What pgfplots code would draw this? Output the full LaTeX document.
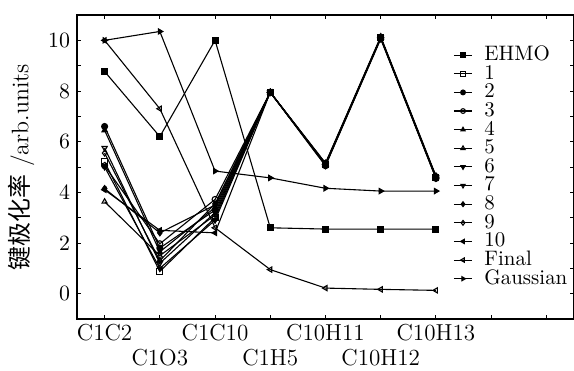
\documentclass[border=0pt]{standalone}
\usepackage{pgfplots}
\pgfplotsset{compat=1.18}
\usepackage{fontspec}
\newfontfamily\cjk{Noto Sans CJK SC}
\begin{document}
\begin{tikzpicture}
\begin{axis}[
  scale only axis,
  width=248.5bp, height=152bp,
  xmin=-0.5, xmax=8.5, ymin=-1, ymax=11,
  xtick={0,1,2,3,4,5,6,7,8},
  xticklabels={C1C2,,C1C10,,C10H11,,C10H13,,},
  extra x ticks={1,3,5},
  extra x tick labels={C1O3,C1H5,C10H12},
  extra x tick style={tick label style={yshift=-12.5bp}},
  x tick label style={font=\fontsize{11.6}{13}\selectfont, yshift=1bp},
  y tick label style={font=\fontsize{11}{13}\selectfont},
  ytick={0,2,4,6,8,10},
  minor ytick={-1,1,3,5,7,9,11},
  tick align=inside,
  major tick length=1.8bp, minor tick length=1.8bp,
  axis line style={line width=0.8pt},
  every tick/.style={black, line width=0.5pt},
  ylabel={{\cjk 键极化率} /arb.units},
  ylabel style={font=\fontsize{12}{14}\selectfont, yshift=0bp},
  every axis plot/.append style={black, line width=0.55pt, mark size=1.5pt},
  legend style={draw=none, fill=none, at={(0.7445,0.913)}, anchor=north west,
    font=\fontsize{10.5}{12}\selectfont,
    nodes={inner sep=0.4pt, text height=6.95pt, text depth=1.6pt, anchor=west},
    row sep=0pt, column sep=5.5bp},
  legend cell align=left,
  legend image code/.code={\draw[mark size=1.2pt, mark repeat=2,mark phase=2] plot coordinates {(0cm,0cm)(0.16cm,0cm)(0.32cm,0cm)};},
]
\addplot[mark=square*] coordinates {(0,8.77)(1,6.2)(2,10.0)(3,2.6)(4,2.55)(5,2.55)(6,2.55)};
\addlegendentry{EHMO}
\addplot[mark=square, mark options={fill=white}] coordinates {(0,5.2)(1,0.88)(2,3.0)(3,7.95)(4,5.1)(5,10.1)(6,4.6)};
\addlegendentry{1}
\addplot[mark=*] coordinates {(0,6.6)(1,1.8)(2,3.3)(3,7.95)(4,5.15)(5,10.1)(6,4.6)};
\addlegendentry{2}
\addplot[mark=o, mark options={fill=white}] coordinates {(0,5.05)(1,1.97)(2,3.72)(3,7.95)(4,5.05)(5,10.1)(6,4.55)};
\addlegendentry{3}
\addplot[mark=triangle*] coordinates {(0,6.45)(1,1.65)(2,3.4)(3,7.95)(4,5.1)(5,10.1)(6,4.6)};
\addlegendentry{4}
\addplot[mark=triangle, mark options={fill=white}] coordinates {(0,3.63)(1,1.5)(2,3.1)(3,7.95)(4,5.1)(5,10.1)(6,4.6)};
\addlegendentry{5}
\addplot[mark=triangle*, mark options={rotate=180}] coordinates {(0,5.0)(1,1.0)(2,2.9)(3,7.95)(4,5.1)(5,10.1)(6,4.6)};
\addlegendentry{6}
\addplot[mark=triangle, mark options={rotate=180, fill=white}] coordinates {(0,5.75)(1,1.2)(2,3.2)(3,7.95)(4,5.1)(5,10.1)(6,4.6)};
\addlegendentry{7}
\addplot[mark=diamond*] coordinates {(0,4.15)(1,2.4)(2,3.5)(3,7.95)(4,5.05)(5,10.05)(6,4.55)};
\addlegendentry{8}
\addplot[mark=diamond, mark options={fill=white}] coordinates {(0,5.55)(1,1.3)(2,3.55)(3,7.95)(4,5.15)(5,10.15)(6,4.65)};
\addlegendentry{9}
\addplot[mark=triangle*, mark options={rotate=90}] coordinates {(0,4.1)(1,2.5)(2,2.4)(3,7.95)(4,5.1)(5,10.1)(6,4.6)};
\addlegendentry{10}
\addplot[mark=triangle, mark options={rotate=90, fill=white}] coordinates {(0,10.0)(1,7.3)(2,2.6)(3,0.95)(4,0.22)(5,0.17)(6,0.13)};
\addlegendentry{Final}
\addplot[mark=triangle*, mark options={rotate=-90}] coordinates {(0,10.0)(1,10.35)(2,4.84)(3,4.57)(4,4.16)(5,4.05)(6,4.05)};
\addlegendentry{Gaussian}
\end{axis}
\pgfresetboundingbox
\path (current axis.south west) ++(-38.5bp,-26bp) rectangle ++(287bp,185.5bp);
\end{tikzpicture}
\end{document}
